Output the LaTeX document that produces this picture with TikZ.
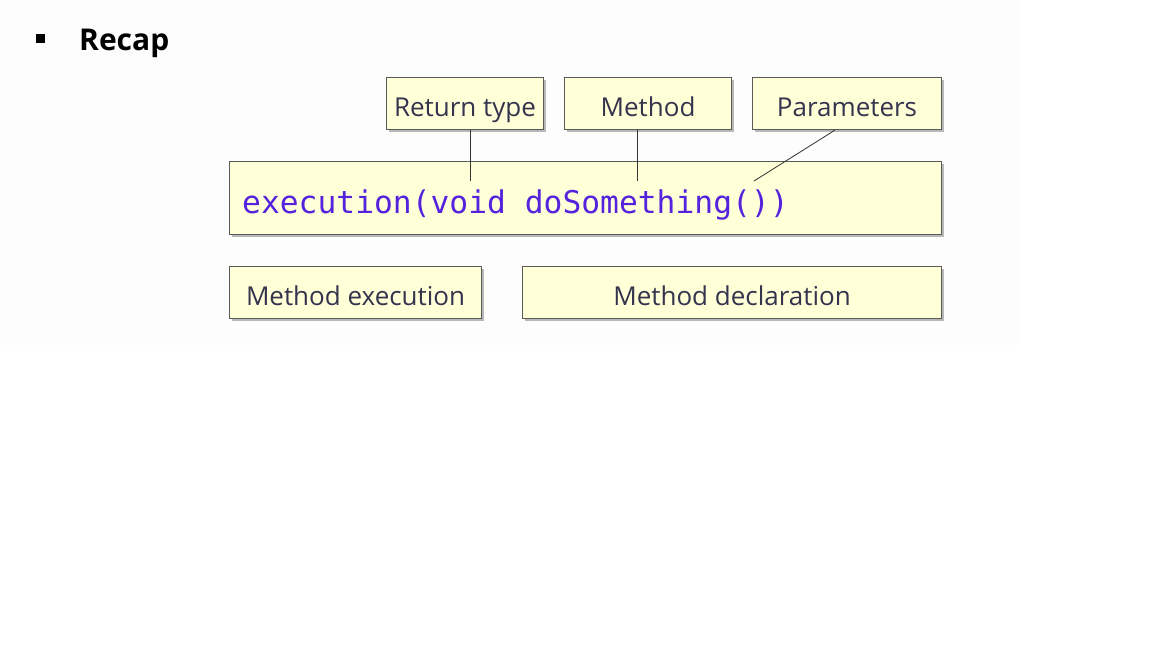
\documentclass[tikz,border=0pt]{standalone}
\usepackage{fontspec}
\setmainfont{Open Sans}
\setmonofont{DejaVu Sans Mono}
\newfontfamily\labelfont{Open Sans}
\usetikzlibrary{shadows}
\definecolor{boxfill}{HTML}{FFFFD8}
\definecolor{boxline}{HTML}{5A5A5A}
\definecolor{codecol}{HTML}{5522DD}
\definecolor{labcol}{HTML}{34344E}
\tikzset{
  box/.style={draw=boxline, line width=1.1pt, fill=boxfill, anchor=north west,
    inner sep=0pt, text=labcol, font=\labelfont\fontsize{26}{30}\selectfont,
    text height=27pt, text depth=2pt,
    drop shadow={shadow xshift=2.5pt, shadow yshift=-2.5pt, opacity=0.45, fill=black!60}},
  link/.style={draw=black!80, line width=0.8pt}
}
\begin{document}
\begin{tikzpicture}[x=1pt,y=-1pt]
\useasboundingbox (0,0) rectangle (1152,648);
\fill[white] (0,0) rectangle (1152,648);
\fill[black!0.8] (0,0) rectangle (1020,345);
% title
\node[fill=black, minimum size=9pt, inner sep=0pt] (bul) at (40,38) {};
\node[anchor=base west, inner sep=0pt, font=\bfseries\fontsize{30}{34}\selectfont] (recap) at (79,50) {Recap};
% top labels
\node[box, minimum width=157, minimum height=52] (rt) at (386,77) {Return type};
\node[box, minimum width=167, minimum height=52] (me) at (564,77) {Method};
\node[box, minimum width=189, minimum height=52] (pa) at (752,77) {Parameters};
% main
\node[box, minimum width=712, minimum height=73] (main) at (229,161) {};
\node[anchor=base west, inner sep=0pt, text=codecol, font=\ttfamily\fontsize{31.3}{34}\selectfont] (code) at (242,213) {execution(void doSomething())};
% bottom labels
\node[box, minimum width=252, minimum height=52] (mx) at (229,266) {Method execution};
\node[box, minimum width=419, minimum height=52] (md) at (522,266) {Method declaration};
% connectors
\coordinate (c1) at (470,181);
\coordinate (c2) at (637,181);
\coordinate (c3) at (754,181);
\coordinate (p3) at (835,129);
\draw[link] (c1 |- rt.south) -- (c1);
\draw[link] (c2 |- me.south) -- (c2);
\draw[link] (p3 |- pa.south) -- (c3);
\end{tikzpicture}
\end{document}
